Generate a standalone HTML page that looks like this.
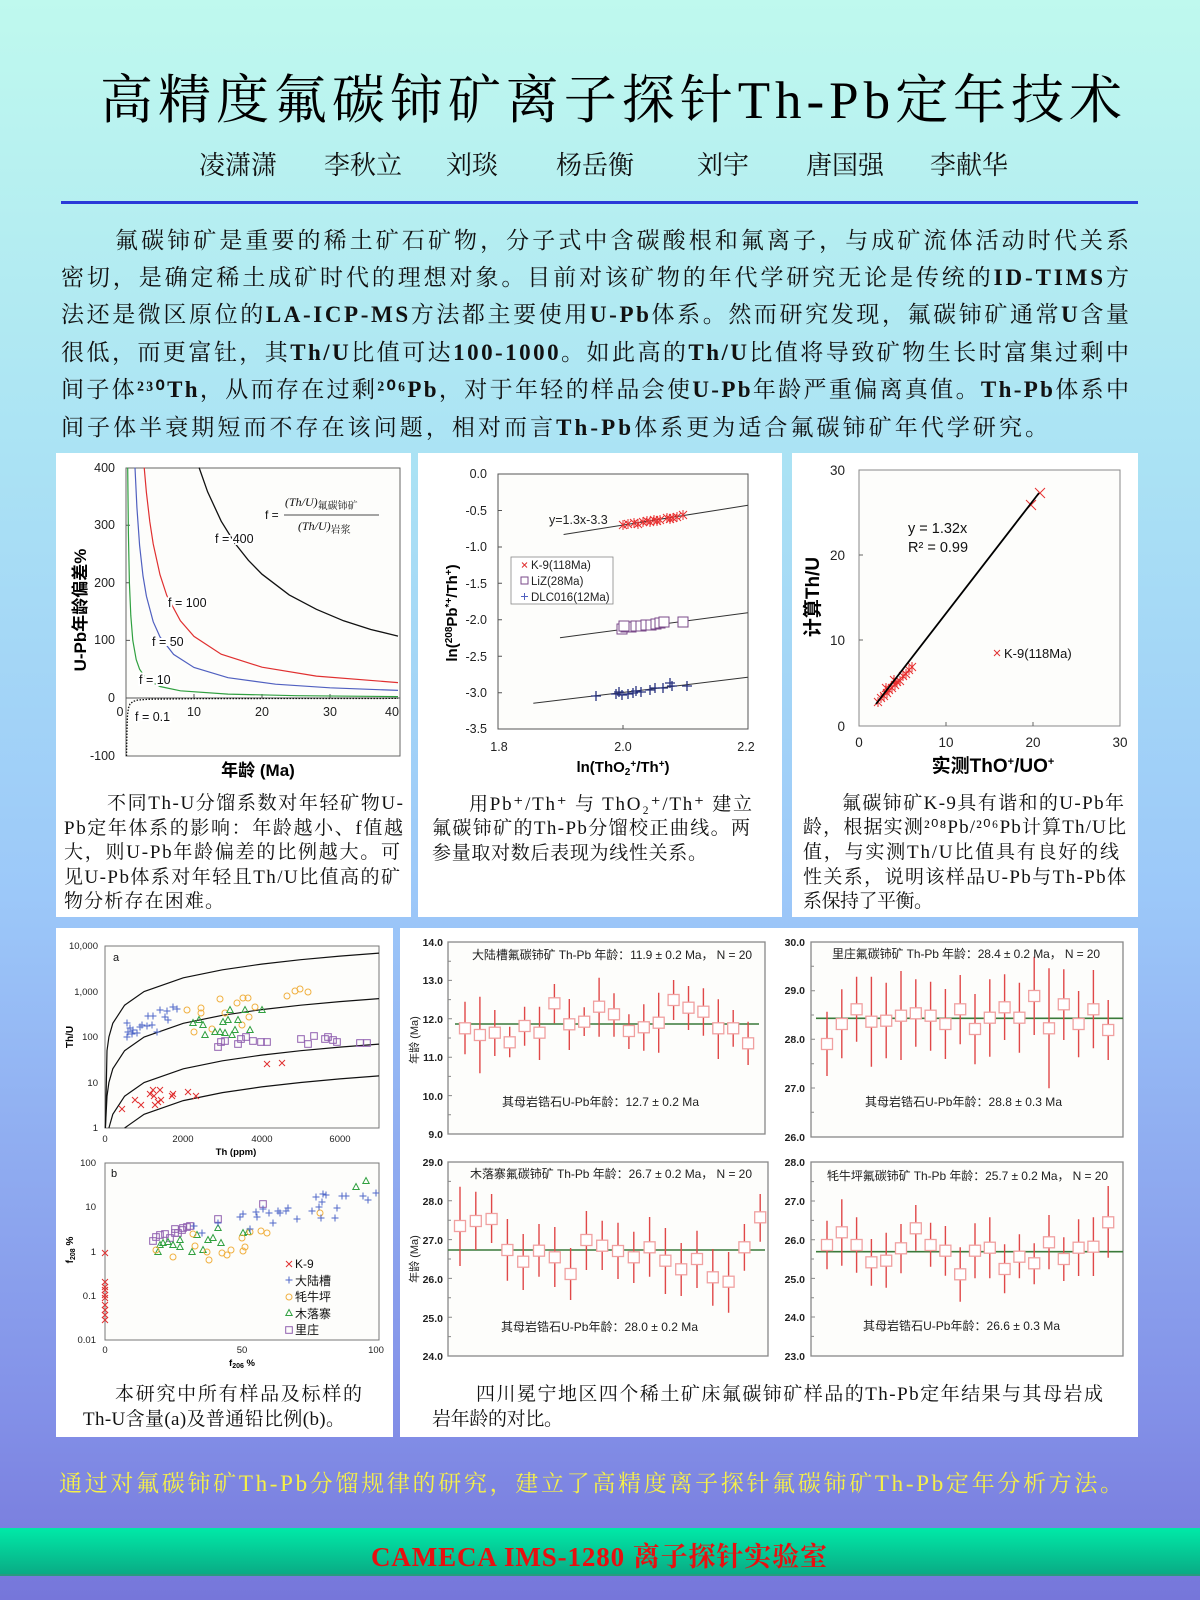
<!DOCTYPE html>
<html><head><meta charset="utf-8"><style>
html,body{margin:0;padding:0;width:1200px;height:1600px;overflow:hidden}
svg{display:block}
.R{font-family:"Liberation Serif","Noto Serif CJK SC",serif}
.S{font-family:"Liberation Sans","Noto Sans CJK SC",sans-serif}
</style></head><body>
<svg width="1200" height="1600" viewBox="0 0 1200 1600" xmlns="http://www.w3.org/2000/svg">
<defs>
<linearGradient id="bg" x1="0" y1="0" x2="0" y2="1">
<stop offset="0" stop-color="#bff9ee"/><stop offset="0.28" stop-color="#abe3f4"/><stop offset="0.56" stop-color="#9cc8f9"/><stop offset="0.88" stop-color="#8391e8"/><stop offset="1" stop-color="#7676da"/>
</linearGradient>
<linearGradient id="gb" x1="0" y1="0" x2="0" y2="1"><stop offset="0" stop-color="#00eaa8"/><stop offset="1" stop-color="#0aaa84"/></linearGradient>
<g id="px"><path d="M-3-3L3 3M-3 3L3-3" stroke="#e03030" stroke-width="1"/></g>
<g id="ast"><path d="M-4-4L4 4M-4 4L4-4M0-5V5" stroke="#e83030" stroke-width="1"/></g>
<g id="pl"><path d="M-3.5 0H3.5M0-3.5V3.5" stroke="#5068c8" stroke-width="1"/></g>
<g id="pln"><path d="M-5 0H5M0-5V5" stroke="#26307e" stroke-width="1.3"/></g>
<circle id="oc" r="3" fill="none" stroke="#f0b040" stroke-width="1"/>
<path id="tr" d="M0-3.5L3.2 2.5H-3.2Z" fill="none" stroke="#30a040" stroke-width="1"/>
<rect id="sq" x="-3.3" y="-3.3" width="6.6" height="6.6" fill="none" stroke="#9060b0" stroke-width="1"/>
<rect id="sqL" x="-5" y="-5" width="10" height="10" fill="#fff" stroke="#7a4a8a" stroke-width="1"/>
<rect id="eb" x="-5.5" y="-5.5" width="11" height="11" fill="#fff" stroke="#f0a0a0" stroke-width="1.3"/>
</defs>
<rect width="1200" height="1600" fill="url(#bg)"/>

<!-- title -->
<text class="R" x="100" y="118" font-size="53" textLength="1022" lengthAdjust="spacing" fill="#000">高精度氟碳铈矿离子探针Th-Pb定年技术</text>
<g class="R" font-size="26" fill="#111">
<text x="199" y="174">凌潇潇</text><text x="324" y="174">李秋立</text><text x="446" y="174">刘琰</text><text x="556" y="174">杨岳衡</text><text x="697" y="174">刘宇</text><text x="806" y="174">唐国强</text><text x="930" y="174">李献华</text>
</g>
<rect x="61" y="201" width="1077" height="3" fill="#2a3ad8"/>

<!-- paragraph -->
<g class="R" font-size="23" fill="#111">
<text x="115" y="248" textLength="1014" lengthAdjust="spacing">氟碳铈矿是重要的稀土矿石矿物，分子式中含碳酸根和氟离子，与成矿流体活动时代关系</text>
<text x="61" y="285" textLength="1068" lengthAdjust="spacing">密切，是确定稀土成矿时代的理想对象。目前对该矿物的年代学研究无论是传统的<tspan font-weight="bold">ID-TIMS</tspan>方</text>
<text x="61" y="322" textLength="1068" lengthAdjust="spacing">法还是微区原位的<tspan font-weight="bold">LA-ICP-MS</tspan>方法都主要使用<tspan font-weight="bold">U-Pb</tspan>体系。然而研究发现，氟碳铈矿通常<tspan font-weight="bold">U</tspan>含量</text>
<text x="61" y="360" textLength="1068" lengthAdjust="spacing">很低，而更富钍，其<tspan font-weight="bold">Th/U</tspan>比值可达<tspan font-weight="bold">100-1000</tspan>。如此高的<tspan font-weight="bold">Th/U</tspan>比值将导致矿物生长时富集过剩中</text>
<text x="61" y="397" textLength="1068" lengthAdjust="spacing">间子体<tspan font-weight="bold">²³⁰Th</tspan>，从而存在过剩<tspan font-weight="bold">²⁰⁶Pb</tspan>，对于年轻的样品会使<tspan font-weight="bold">U-Pb</tspan>年龄严重偏离真值。<tspan font-weight="bold">Th-Pb</tspan>体系中</text>
<text x="61" y="435" textLength="987" lengthAdjust="spacing">间子体半衰期短而不存在该问题，相对而言<tspan font-weight="bold">Th-Pb</tspan>体系更为适合氟碳铈矿年代学研究。</text>
</g>

<!-- panels -->
<g fill="#fff">
<rect x="56" y="453" width="355" height="464"/>
<rect x="418" y="453" width="364" height="464"/>
<rect x="792" y="453" width="346" height="464"/>
<rect x="56" y="928" width="337" height="509"/>
<rect x="400" y="928" width="738" height="509"/>
</g>

<!-- ===== Panel 1 ===== -->
<g>
<rect x="126" y="468" width="274" height="288" fill="#fdfdfb" stroke="#666" stroke-width="1"/>
<line x1="126" y1="698" x2="400" y2="698" stroke="#555" stroke-width="1"/>
<g stroke="#555" stroke-width="1"><path d="M194 698v-4M262 698v-4M330 698v-4M126 640.4h4M126 582.8h4M126 525.2h4"/></g>
<path d="M199.1 467.6L207.6 491.8L221.2 521.2L234.8 543.1L248.4 560.3L262 574.2L289.2 594.9L316.4 609.3L343.6 620.8L370.8 629.5L398 636.1" fill="none" stroke="#111" stroke-width="1.3"/>
<path d="M144.2 467.6L146.4 492.4L149.8 521.7L153.2 543.9L160 574.7L166.8 595.5L180.4 620.8L194 636.4L221.2 654.2L262 667.2L316.4 676.1L398 682.6" fill="none" stroke="#e03030" stroke-width="1.2"/>
<path d="M135 467.6L136.9 507.3L139.6 545.4L143 575.9L146.4 596.1L153.2 621.7L160 636.9L173.6 654.4L194 667.5L228 677.7L275.6 684.2L330 687.8L398 690.4" fill="none" stroke="#5060c0" stroke-width="1.2"/>
<path d="M127.7 467.6L128.4 533.3L129.4 582.8L130.8 615.6L132.8 640.4L136.2 659.6L139.6 669.2L146.4 679L160 686.5L180.4 690.8L228 694.1L296 695.7L398 696.6" fill="none" stroke="#30a040" stroke-width="1.2"/>
<path d="M126.5 756L127 730L127.5 715L128.5 708L130 704L133 701.5L138 700L150 699.2L200 698.6L398 698.4" fill="none" stroke="#111" stroke-width="1.3" stroke-dasharray="1.5 1.5"/>
<g class="S" font-size="12.5" fill="#111" stroke="#fff" stroke-width="4" paint-order="stroke">
<text x="215" y="543">f = 400</text><text x="168" y="607">f = 100</text><text x="152" y="646">f = 50</text><text x="139" y="684">f = 10</text><text x="135" y="721">f = 0.1</text>
</g>
<g class="R" font-size="12" fill="#111" font-style="italic">
<text x="265" y="519" font-style="normal" class="S">f =</text>
<text x="285" y="506">(Th/U)<tspan font-size="10" dy="3" font-style="normal">氟碳铈矿</tspan></text>
<line x1="284" y1="515" x2="379" y2="515" stroke="#111" stroke-width="0.8"/>
<text x="298" y="530">(Th/U)<tspan font-size="10" dy="3" font-style="normal">岩浆</tspan></text>
</g>
<g class="S" font-size="12.5" fill="#222" text-anchor="end">
<text x="115" y="472">400</text><text x="115" y="529">300</text><text x="115" y="587">200</text><text x="115" y="644">100</text><text x="115" y="702">0</text><text x="115" y="760">-100</text>
</g>
<g class="S" font-size="12.5" fill="#222" text-anchor="middle">
<text x="120" y="716">0</text><text x="194" y="716">10</text><text x="262" y="716">20</text><text x="330" y="716">30</text><text x="392" y="716">40</text>
</g>
<text class="S" x="0" y="0" font-size="17" font-weight="bold" text-anchor="middle" transform="translate(86,610) rotate(-90)">U-Pb年龄偏差%</text>
<text class="S" x="258" y="776" font-size="17" font-weight="bold" text-anchor="middle">年龄 (Ma)</text>
<g class="R" font-size="19" fill="#111">
<text x="107" y="809" textLength="296" lengthAdjust="spacing">不同Th-U分馏系数对年轻矿物U-</text>
<text x="64" y="834" textLength="339" lengthAdjust="spacing">Pb定年体系的影响：年龄越小、f值越</text>
<text x="64" y="858" textLength="336" lengthAdjust="spacing">大，则U-Pb年龄偏差的比例越大。可</text>
<text x="64" y="883" textLength="336" lengthAdjust="spacing">见U-Pb体系对年轻且Th/U比值高的矿</text>
<text x="64" y="907" textLength="160" lengthAdjust="spacing">物分析存在困难。</text>
</g>
</g>

<!-- ===== Panel 2 ===== -->
<g>
<rect x="498" y="474" width="250" height="255" fill="#fdfdfb" stroke="#555" stroke-width="1"/>
<path d="M498 510.5h4M498 547h4M498 583.3h4M498 619.8h4M498 656.3h4M498 692.7h4M623 729v-4" stroke="#555"/>
<path d="M563.6 534.5L748 505.3M560 637.7L747.7 612.7M533.3 703.3L747.7 677.3" stroke="#333" stroke-width="1"/>
<g>
<use href="#ast" x="623" y="525"/><use href="#ast" x="628" y="524"/><use href="#ast" x="634" y="523"/><use href="#ast" x="638" y="524"/><use href="#ast" x="643" y="522"/><use href="#ast" x="647" y="521"/><use href="#ast" x="650" y="522"/><use href="#ast" x="654" y="520"/><use href="#ast" x="657" y="521"/><use href="#ast" x="660" y="520"/><use href="#ast" x="667" y="518"/><use href="#ast" x="670" y="519"/><use href="#ast" x="673" y="518"/><use href="#ast" x="677" y="517"/><use href="#ast" x="683" y="515"/>
</g>
<g>
<use href="#sqL" x="622" y="629"/><use href="#sqL" x="626" y="627"/><use href="#sqL" x="631" y="627"/><use href="#sqL" x="636" y="626"/><use href="#sqL" x="641" y="626"/><use href="#sqL" x="646" y="625"/><use href="#sqL" x="651" y="625"/><use href="#sqL" x="656" y="624"/><use href="#sqL" x="660" y="623"/><use href="#sqL" x="664" y="622"/><use href="#sqL" x="683" y="622"/><use href="#sqL" x="624" y="626"/>
</g>
<g>
<use href="#pln" x="596" y="696"/><use href="#pln" x="616" y="694"/><use href="#pln" x="619" y="692"/><use href="#pln" x="622" y="695"/><use href="#pln" x="628" y="694"/><use href="#pln" x="633" y="693"/><use href="#pln" x="636" y="691"/><use href="#pln" x="641" y="692"/><use href="#pln" x="650" y="690"/><use href="#pln" x="655" y="688"/><use href="#pln" x="663" y="688"/><use href="#pln" x="670" y="683"/><use href="#pln" x="672" y="686"/><use href="#pln" x="687" y="686"/>
</g>
<text class="S" x="549" y="524" font-size="12.5" fill="#222">y=1.3x-3.3</text>
<rect x="511" y="557" width="102" height="47" fill="#fff" stroke="#888" stroke-width="0.8"/>
<g class="S" font-size="11.5" fill="#222">
<path d="M522 562.5l5 5M522 567.5l5-5" stroke="#e03030"/><text x="531" y="569">K-9(118Ma)</text>
<rect x="521" y="577" width="7" height="7" fill="none" stroke="#7a4a8a"/><text x="531" y="585">LiZ(28Ma)</text>
<path d="M521 596.5h7M524.5 593v7" stroke="#5060c0"/><text x="531" y="601">DLC016(12Ma)</text>
</g>
<g class="S" font-size="12.5" fill="#222" text-anchor="end">
<text x="487" y="478">0.0</text><text x="487" y="515">-0.5</text><text x="487" y="551">-1.0</text><text x="487" y="588">-1.5</text><text x="487" y="624">-2.0</text><text x="487" y="661">-2.5</text><text x="487" y="697">-3.0</text><text x="487" y="733">-3.5</text>
</g>
<g class="S" font-size="12.5" fill="#222" text-anchor="middle"><text x="499" y="751">1.8</text><text x="623" y="751">2.0</text><text x="746" y="751">2.2</text></g>
<text class="S" font-size="15" font-weight="bold" text-anchor="middle" transform="translate(457,613) rotate(-90)">ln(<tspan font-size="10" dy="-5">208</tspan><tspan dy="5">Pb</tspan><tspan font-size="10" dy="-5">*+</tspan><tspan dy="5">/Th</tspan><tspan font-size="10" dy="-5">+</tspan><tspan dy="5">)</tspan></text>
<text class="S" x="623" y="772" font-size="15" font-weight="bold" text-anchor="middle">ln(ThO<tspan font-size="10" dy="3">2</tspan><tspan font-size="10" dy="-8">+</tspan><tspan dy="5">/Th</tspan><tspan font-size="10" dy="-5">+</tspan><tspan dy="5">)</tspan></text>
<g class="R" font-size="19" fill="#111">
<text x="469" y="810" textLength="283" lengthAdjust="spacing">用Pb⁺/Th⁺ 与 ThO₂⁺/Th⁺ 建立</text>
<text x="432" y="834" textLength="318" lengthAdjust="spacing">氟碳铈矿的Th-Pb分馏校正曲线。两</text>
<text x="432" y="859" textLength="275" lengthAdjust="spacing">参量取对数后表现为线性关系。</text>
</g>
</g>

<!-- ===== Panel 3 ===== -->
<g>
<rect x="859" y="470" width="261" height="256" fill="#fdfdfb" stroke="#888" stroke-width="1"/>
<path d="M859 640h4M859 555h4M946 726v-4M1033 726v-4" stroke="#666"/>
<g>
<use href="#ast" x="878" y="702"/><use href="#ast" x="881" y="698"/><use href="#ast" x="884" y="696"/><use href="#ast" x="887" y="693"/><use href="#ast" x="889" y="690"/><use href="#ast" x="892" y="688"/><use href="#ast" x="895" y="685"/><use href="#ast" x="897" y="682"/><use href="#ast" x="900" y="681"/><use href="#ast" x="903" y="676"/><use href="#ast" x="906" y="674"/><use href="#ast" x="909" y="670"/><use href="#ast" x="912" y="667"/><use href="#ast" x="886" y="688"/><use href="#ast" x="894" y="680"/>
</g>
<path d="M1026 500l10 10M1026 510l10-10M1035 488l10 10M1035 498l10-10" stroke="#e83030" stroke-width="1"/>
<path d="M876 704L1039 493" stroke="#000" stroke-width="1.8"/>
<g class="S" font-size="14.5" fill="#111"><text x="908" y="533">y = 1.32x</text><text x="908" y="552">R² = 0.99</text></g>
<path d="M994 650l6 6M994 656l6-6" stroke="#e03030"/>
<text class="S" x="1004" y="658" font-size="13" fill="#111">K-9(118Ma)</text>
<g class="S" font-size="13.5" fill="#222" text-anchor="end"><text x="845" y="475">30</text><text x="845" y="560">20</text><text x="845" y="645">10</text><text x="845" y="731">0</text></g>
<g class="S" font-size="13.5" fill="#222" text-anchor="middle"><text x="859" y="747">0</text><text x="946" y="747">10</text><text x="1033" y="747">20</text><text x="1120" y="747">30</text></g>
<text class="S" font-size="19" font-weight="bold" text-anchor="middle" transform="translate(819,597) rotate(-90)">计算Th/U</text>
<text class="S" x="993" y="772" font-size="19" font-weight="bold" text-anchor="middle">实测ThO<tspan font-size="11" dy="-7">+</tspan><tspan dy="7">/UO</tspan><tspan font-size="11" dy="-7">+</tspan></text>
<g class="R" font-size="19" fill="#111">
<text x="842" y="809" textLength="282" lengthAdjust="spacing">氟碳铈矿K-9具有谐和的U-Pb年</text>
<text x="803" y="833" textLength="323" lengthAdjust="spacing">龄，根据实测²⁰⁸Pb/²⁰⁶Pb计算Th/U比</text>
<text x="803" y="858" textLength="316" lengthAdjust="spacing">值，与实测Th/U比值具有良好的线</text>
<text x="803" y="883" textLength="323" lengthAdjust="spacing">性关系，说明该样品U-Pb与Th-Pb体</text>
<text x="803" y="907" textLength="130" lengthAdjust="spacing">系保持了平衡。</text>
</g>
</g>

<!-- ===== Panel 4 ===== -->
<g>
<rect x="105" y="946" width="274" height="182" fill="#fdfdfb" stroke="#777" stroke-width="1"/>
<path d="M105.4 1128L107 1050.7L108.9 1037L112.8 1023.3L124.6 1005.2L144.1 991.5L183.3 977.8L222.4 969.8L261.6 964.1L300.7 959.7L339.8 956.1L379 953.1" fill="none" stroke="#111" stroke-width="1.2"/>
<path d="M105.4 1128L107 1096.2L108.9 1082.5L112.8 1068.8L124.6 1050.7L144.1 1037L183.3 1023.3L222.4 1015.3L261.6 1009.6L300.7 1005.2L339.8 1001.6L379 998.6" fill="none" stroke="#111" stroke-width="1.2"/>
<path d="M108.9 1128L112.8 1114.3L124.6 1096.2L144.1 1082.5L183.3 1068.8L222.4 1060.8L261.6 1055.1L300.7 1050.7L339.8 1047.1L379 1044.1" fill="none" stroke="#111" stroke-width="1.2"/>
<path d="M124.6 1128L144.1 1114.3L183.3 1100.6L222.4 1092.6L261.6 1086.9L300.7 1082.5L339.8 1078.9L379 1075.9" fill="none" stroke="#111" stroke-width="1.2"/>
<g>
<use href="#pl" x="127" y="1037"/><use href="#pl" x="128" y="1032"/><use href="#pl" x="133" y="1030"/><use href="#pl" x="130" y="1028"/><use href="#pl" x="127" y="1023"/><use href="#pl" x="140" y="1027"/><use href="#pl" x="147" y="1026"/><use href="#pl" x="152" y="1025"/><use href="#pl" x="157" y="1032"/><use href="#pl" x="153" y="1016"/><use href="#pl" x="160" y="1010"/><use href="#pl" x="167" y="1011"/><use href="#pl" x="165" y="1017"/><use href="#pl" x="173" y="1007"/><use href="#pl" x="177" y="1009"/><use href="#pl" x="168" y="1020"/><use href="#pl" x="137" y="1033"/><use href="#pl" x="132" y="1034"/><use href="#pl" x="142" y="1025"/><use href="#pl" x="148" y="1016"/>
<use href="#oc" x="187" y="1010"/><use href="#oc" x="194" y="1032"/><use href="#oc" x="201" y="1008"/><use href="#oc" x="201" y="1013"/><use href="#oc" x="212" y="1029"/><use href="#oc" x="220" y="999"/><use href="#oc" x="225" y="1013"/><use href="#oc" x="237" y="1003"/><use href="#oc" x="243" y="998"/><use href="#oc" x="248" y="998"/><use href="#oc" x="242" y="1025"/><use href="#oc" x="249" y="1017"/><use href="#oc" x="255" y="1007"/><use href="#oc" x="287" y="996"/><use href="#oc" x="295" y="991"/><use href="#oc" x="300" y="989"/><use href="#oc" x="308" y="992"/>
<use href="#tr" x="193" y="1023"/><use href="#tr" x="199" y="1020"/><use href="#tr" x="203" y="1025"/><use href="#tr" x="205" y="1035"/><use href="#tr" x="215" y="1032"/><use href="#tr" x="223" y="1022"/><use href="#tr" x="228" y="1020"/><use href="#tr" x="230" y="1010"/><use href="#tr" x="235" y="1030"/><use href="#tr" x="225" y="1033"/><use href="#tr" x="238" y="1020"/><use href="#tr" x="245" y="1010"/><use href="#tr" x="250" y="1030"/><use href="#tr" x="262" y="1010"/><use href="#tr" x="232" y="1035"/><use href="#tr" x="220" y="1032"/>
<use href="#sq" x="218" y="1047"/><use href="#sq" x="221" y="1042"/><use href="#sq" x="225" y="1041"/><use href="#sq" x="238" y="1044"/><use href="#sq" x="241" y="1039"/><use href="#sq" x="246" y="1037"/><use href="#sq" x="253" y="1041"/><use href="#sq" x="261" y="1042"/><use href="#sq" x="267" y="1042"/><use href="#sq" x="301" y="1039"/><use href="#sq" x="308" y="1044"/><use href="#sq" x="314" y="1036"/><use href="#sq" x="325" y="1039"/><use href="#sq" x="328" y="1037"/><use href="#sq" x="333" y="1040"/><use href="#sq" x="337" y="1042"/><use href="#sq" x="360" y="1043"/><use href="#sq" x="367" y="1043"/>
<use href="#px" x="122" y="1109"/><use href="#px" x="135" y="1100"/><use href="#px" x="141" y="1105"/><use href="#px" x="150" y="1094"/><use href="#px" x="153" y="1090"/><use href="#px" x="154" y="1096"/><use href="#px" x="160" y="1090"/><use href="#px" x="155" y="1105"/><use href="#px" x="158" y="1102"/><use href="#px" x="161" y="1100"/><use href="#px" x="172" y="1096"/><use href="#px" x="173" y="1094"/><use href="#px" x="188" y="1092"/><use href="#px" x="196" y="1096"/><use href="#px" x="267" y="1064"/><use href="#px" x="282" y="1063"/>
</g>
<text class="S" x="113" y="961" font-size="11" fill="#111">a</text>
<g class="S" font-size="9.5" fill="#222" text-anchor="end"><text x="98" y="949">10,000</text><text x="98" y="995">1,000</text><text x="98" y="1040">100</text><text x="98" y="1086">10</text><text x="98" y="1131">1</text></g>
<g class="S" font-size="9.5" fill="#222" text-anchor="middle"><text x="105" y="1142">0</text><text x="183" y="1142">2000</text><text x="262" y="1142">4000</text><text x="340" y="1142">6000</text></g>
<text class="S" x="236" y="1155" font-size="9.5" font-weight="bold" text-anchor="middle">Th (ppm)</text>
<text class="S" font-size="10" font-weight="bold" text-anchor="middle" transform="translate(73,1037) rotate(-90)">Th/U</text>

<rect x="105" y="1163" width="274" height="177" fill="#fdfdfb" stroke="#777" stroke-width="1"/>
<g>
<use href="#sq" x="153" y="1241"/><use href="#sq" x="156" y="1237"/><use href="#sq" x="160" y="1235"/><use href="#sq" x="165" y="1234"/><use href="#sq" x="170" y="1238"/><use href="#sq" x="175" y="1233"/><use href="#sq" x="175" y="1229"/><use href="#sq" x="178" y="1233"/><use href="#sq" x="182" y="1230"/><use href="#sq" x="183" y="1228"/><use href="#sq" x="187" y="1227"/><use href="#sq" x="190" y="1226"/><use href="#sq" x="218" y="1219"/><use href="#sq" x="263" y="1204"/>
<use href="#tr" x="158" y="1252"/><use href="#tr" x="160" y="1245"/><use href="#tr" x="163" y="1243"/><use href="#tr" x="168" y="1242"/><use href="#tr" x="173" y="1245"/><use href="#tr" x="180" y="1247"/><use href="#tr" x="180" y="1240"/><use href="#tr" x="192" y="1252"/><use href="#tr" x="197" y="1235"/><use href="#tr" x="203" y="1250"/><use href="#tr" x="208" y="1240"/><use href="#tr" x="213" y="1238"/><use href="#tr" x="218" y="1228"/><use href="#tr" x="221" y="1243"/><use href="#tr" x="243" y="1233"/><use href="#tr" x="248" y="1232"/><use href="#tr" x="356" y="1187"/><use href="#tr" x="366" y="1181"/>
<use href="#oc" x="156" y="1250"/><use href="#oc" x="173" y="1257"/><use href="#oc" x="193" y="1234"/><use href="#oc" x="195" y="1246"/><use href="#oc" x="207" y="1252"/><use href="#oc" x="209" y="1260"/><use href="#oc" x="222" y="1253"/><use href="#oc" x="227" y="1255"/><use href="#oc" x="231" y="1250"/><use href="#oc" x="242" y="1238"/><use href="#oc" x="243" y="1251"/><use href="#oc" x="245" y="1247"/><use href="#oc" x="250" y="1232"/><use href="#oc" x="261" y="1231"/><use href="#oc" x="267" y="1233"/><use href="#oc" x="320" y="1213"/>
<use href="#pl" x="194" y="1226"/><use href="#pl" x="202" y="1233"/><use href="#pl" x="218" y="1223"/><use href="#pl" x="240" y="1217"/><use href="#pl" x="243" y="1214"/><use href="#pl" x="250" y="1229"/><use href="#pl" x="256" y="1212"/><use href="#pl" x="257" y="1217"/><use href="#pl" x="263" y="1209"/><use href="#pl" x="269" y="1213"/><use href="#pl" x="273" y="1223"/><use href="#pl" x="278" y="1211"/><use href="#pl" x="280" y="1213"/><use href="#pl" x="286" y="1211"/><use href="#pl" x="288" y="1208"/><use href="#pl" x="297" y="1219"/><use href="#pl" x="312" y="1211"/><use href="#pl" x="316" y="1197"/><use href="#pl" x="319" y="1207"/><use href="#pl" x="321" y="1218"/><use href="#pl" x="322" y="1202"/><use href="#pl" x="323" y="1194"/><use href="#pl" x="326" y="1195"/><use href="#pl" x="335" y="1218"/><use href="#pl" x="337" y="1208"/><use href="#pl" x="342" y="1196"/><use href="#pl" x="346" y="1196"/><use href="#pl" x="363" y="1196"/><use href="#pl" x="368" y="1200"/><use href="#pl" x="376" y="1193"/>
<use href="#px" x="105" y="1253"/><use href="#px" x="105" y="1282"/><use href="#px" x="105" y="1287"/><use href="#px" x="105" y="1290"/><use href="#px" x="105" y="1295"/><use href="#px" x="105" y="1298"/><use href="#px" x="105" y="1305"/><use href="#px" x="105" y="1310"/><use href="#px" x="105" y="1315"/><use href="#px" x="105" y="1320"/>
</g>
<text class="S" x="111" y="1177" font-size="11" fill="#111">b</text>
<g class="S" font-size="12" fill="#111">
<use href="#px" x="289" y="1264"/><text x="295" y="1268">K-9</text>
<use href="#pl" x="289" y="1280"/><text x="295" y="1285">大陆槽</text>
<use href="#oc" x="289" y="1297"/><text x="295" y="1301">牦牛坪</text>
<use href="#tr" x="289" y="1313"/><text x="295" y="1318">木落寨</text>
<use href="#sq" x="289" y="1330"/><text x="295" y="1334">里庄</text>
</g>
<g class="S" font-size="9.5" fill="#222" text-anchor="end"><text x="96" y="1166">100</text><text x="96" y="1210">10</text><text x="96" y="1255">1</text><text x="96" y="1299">0.1</text><text x="96" y="1343">0.01</text></g>
<g class="S" font-size="9.5" fill="#222" text-anchor="middle"><text x="105" y="1353">0</text><text x="242" y="1353">50</text><text x="376" y="1353">100</text></g>
<text class="S" x="242" y="1366" font-size="9.5" font-weight="bold" text-anchor="middle">f<tspan font-size="7" dy="2">206</tspan><tspan dy="-2"> %</tspan></text>
<text class="S" font-size="10" font-weight="bold" text-anchor="middle" transform="translate(73,1250) rotate(-90)">f<tspan font-size="7" dy="2">208</tspan><tspan dy="-2"> %</tspan></text>
<g class="R" font-size="19" fill="#111">
<text x="115" y="1400" textLength="247" lengthAdjust="spacing">本研究中所有样品及标样的</text>
<text x="83" y="1425" textLength="262" lengthAdjust="spacing">Th-U含量(a)及普通铅比例(b)。</text>
</g>
</g>

<!-- ===== Panel 5 ===== -->
<g>
<g fill="#fdfdfb" stroke="#888" stroke-width="1.3">
<rect x="448" y="942" width="317" height="192"/>
<rect x="811" y="942" width="312" height="195"/>
<rect x="448" y="1162" width="320" height="194"/>
<rect x="811" y="1162" width="312" height="194"/>
</g>
<g class="S" font-size="10.5" font-weight="bold" fill="#222" text-anchor="end">
<text x="443" y="946">14.0</text><text x="443" y="984">13.0</text><text x="443" y="1023">12.0</text><text x="443" y="1061">11.0</text><text x="443" y="1100">10.0</text><text x="443" y="1138">9.0</text>
<text x="805" y="946">30.0</text><text x="805" y="994">29.0</text><text x="805" y="1043">28.0</text><text x="805" y="1092">27.0</text><text x="805" y="1141">26.0</text>
<text x="443" y="1166">29.0</text><text x="443" y="1205">28.0</text><text x="443" y="1244">27.0</text><text x="443" y="1283">26.0</text><text x="443" y="1322">25.0</text><text x="443" y="1360">24.0</text>
<text x="805" y="1166">28.0</text><text x="805" y="1205">27.0</text><text x="805" y="1244">26.0</text><text x="805" y="1283">25.0</text><text x="805" y="1321">24.0</text><text x="805" y="1360">23.0</text>
</g>
<g stroke="#888" stroke-width="1">
<path d="M448 961.2h3M448 980.4h4M448 999.6h3M448 1018.8h4M448 1038h3M448 1057.2h4M448 1076.4h3M448 1095.6h4M448 1114.8h3"/>
<path d="M811 966.3h3M811 990.7h4M811 1015h3M811 1039.3h4M811 1063.7h3M811 1088h4M811 1112.3h3"/>
<path d="M448 1181.4h3M448 1200.8h4M448 1220.2h3M448 1239.6h4M448 1259h3M448 1278.4h4M448 1297.8h3M448 1317.2h4M448 1336.6h3"/>
<path d="M811 1181.6h3M811 1201h4M811 1220.4h3M811 1239.7h4M811 1259h3M811 1278.4h4M811 1297.7h3M811 1317h4M811 1336.4h3"/>
</g>
<g stroke="#3a7a3a" stroke-width="1.6">
<path d="M455 1024H759M816 1018.3H1123M448 1250H765M816 1251.7H1123"/>
</g>
<g stroke="#e04848" stroke-width="1.4" fill="none">
<path d="M465 1001.7V1054.3M479.9 996.7V1073.3M494.8 1010V1056M509.7 1026.7V1057.3M524.6 1006.7V1045.7M539.5 1006.7V1060M554.4 984V1023.3M569.3 999V1050M584.2 1007.3V1036M599.1 977.7V1036.7M614 993.3V1036.7M628.9 1014.3V1049M643.8 1004.3V1050.7M658.7 992.7V1052.7M673.6 980V1020M688.5 986V1030M703.4 988.3V1035.7M718.3 999.3V1059M733.2 1010V1046.7M748.1 1021.7V1065"/>
<path d="M827 1011.7V1076M841.8 989.3V1058.3M856.6 976.7V1041.7M871.4 976.7V1066.7M886.2 982.7V1058.3M901 971V1060M915.8 979.3V1046.7M930.6 981.7V1050.7M945.4 989V1059M960.2 975V1044.3M975 994V1064.3M989.8 979.3V1056.7M1004.6 974.3V1040M1019.4 982.7V1052.7M1034.2 956.7V1035M1049 968.3V1088.3M1063.8 969.3V1040M1078.6 991V1057.3M1093.4 970V1048.3M1108.2 1000V1060"/>
<path d="M460 1186.7V1266M475.8 1191.7V1250M491.6 1194V1243M507.4 1219V1280.7M523.2 1234V1290M539 1224V1276.7M554.8 1227V1287M570.6 1248V1300M586.4 1211V1270M602.2 1220.7V1270M618 1222.7V1279M633.8 1231.7V1283M649.6 1217V1276.7M665.4 1228V1294M681.2 1243V1296M697 1230.7V1288M712.8 1249V1305.7M728.6 1252V1312.7M744.4 1224V1270.7M760.2 1194V1241.7"/>
<path d="M827 1220.7V1269.3M841.8 1199.3V1265.7M856.6 1217.3V1272.7M871.4 1239V1285.7M886.2 1232.7V1287.7M901 1224V1273.3M915.8 1205V1250.7M930.6 1222.7V1266.7M945.4 1226V1275.7M960.2 1247.3V1301.7M975 1223.3V1278.3M989.8 1217.3V1278.3M1004.6 1244.3V1293.3M1019.4 1234.3V1278.3M1034.2 1243.3V1284.3M1049 1215V1269.3M1063.8 1237.3V1281M1078.6 1219.3V1276M1093.4 1217.3V1276M1108.2 1186V1257.7"/>
</g>
<g>
<use href="#eb" x="465" y="1028.3"/><use href="#eb" x="479.9" y="1035"/><use href="#eb" x="494.8" y="1032.7"/><use href="#eb" x="509.7" y="1042.3"/><use href="#eb" x="524.6" y="1026"/><use href="#eb" x="539.5" y="1032.7"/><use href="#eb" x="554.4" y="1003.3"/><use href="#eb" x="569.3" y="1024.3"/><use href="#eb" x="584.2" y="1021.7"/><use href="#eb" x="599.1" y="1006.7"/><use href="#eb" x="614" y="1014.3"/><use href="#eb" x="628.9" y="1031"/><use href="#eb" x="643.8" y="1027.3"/><use href="#eb" x="658.7" y="1022.7"/><use href="#eb" x="673.6" y="1000"/><use href="#eb" x="688.5" y="1007.7"/><use href="#eb" x="703.4" y="1011.7"/><use href="#eb" x="718.3" y="1028.3"/><use href="#eb" x="733.2" y="1028.3"/><use href="#eb" x="748.1" y="1043.3"/>
<use href="#eb" x="827" y="1044"/><use href="#eb" x="841.8" y="1024"/><use href="#eb" x="856.6" y="1009.3"/><use href="#eb" x="871.4" y="1021.7"/><use href="#eb" x="886.2" y="1020.7"/><use href="#eb" x="901" y="1015.7"/><use href="#eb" x="915.8" y="1013.3"/><use href="#eb" x="930.6" y="1015.7"/><use href="#eb" x="945.4" y="1024"/><use href="#eb" x="960.2" y="1009.3"/><use href="#eb" x="975" y="1029"/><use href="#eb" x="989.8" y="1017.7"/><use href="#eb" x="1004.6" y="1007.3"/><use href="#eb" x="1019.4" y="1017.7"/><use href="#eb" x="1034.2" y="996"/><use href="#eb" x="1049" y="1028.3"/><use href="#eb" x="1063.8" y="1004.3"/><use href="#eb" x="1078.6" y="1024"/><use href="#eb" x="1093.4" y="1009.3"/><use href="#eb" x="1108.2" y="1030"/>
<use href="#eb" x="460" y="1226"/><use href="#eb" x="475.8" y="1221"/><use href="#eb" x="491.6" y="1219"/><use href="#eb" x="507.4" y="1250"/><use href="#eb" x="523.2" y="1261.7"/><use href="#eb" x="539" y="1250.7"/><use href="#eb" x="554.8" y="1257.3"/><use href="#eb" x="570.6" y="1274"/><use href="#eb" x="586.4" y="1240"/><use href="#eb" x="602.2" y="1245.7"/><use href="#eb" x="618" y="1251"/><use href="#eb" x="633.8" y="1257.3"/><use href="#eb" x="649.6" y="1247.3"/><use href="#eb" x="665.4" y="1260.7"/><use href="#eb" x="681.2" y="1269.3"/><use href="#eb" x="697" y="1259"/><use href="#eb" x="712.8" y="1277.3"/><use href="#eb" x="728.6" y="1281.7"/><use href="#eb" x="744.4" y="1247.3"/><use href="#eb" x="760.2" y="1217.3"/>
<use href="#eb" x="827" y="1245"/><use href="#eb" x="841.8" y="1232.3"/><use href="#eb" x="856.6" y="1245"/><use href="#eb" x="871.4" y="1262.3"/><use href="#eb" x="886.2" y="1260.7"/><use href="#eb" x="901" y="1248.3"/><use href="#eb" x="915.8" y="1228.3"/><use href="#eb" x="930.6" y="1245"/><use href="#eb" x="945.4" y="1250.7"/><use href="#eb" x="960.2" y="1274.3"/><use href="#eb" x="975" y="1250.7"/><use href="#eb" x="989.8" y="1247.7"/><use href="#eb" x="1004.6" y="1269"/><use href="#eb" x="1019.4" y="1256.7"/><use href="#eb" x="1034.2" y="1263.3"/><use href="#eb" x="1049" y="1242.3"/><use href="#eb" x="1063.8" y="1259"/><use href="#eb" x="1078.6" y="1247.7"/><use href="#eb" x="1093.4" y="1246.7"/><use href="#eb" x="1108.2" y="1222.3"/>
</g>
<g class="S" font-size="12" fill="#222">
<text x="472" y="959" textLength="280" lengthAdjust="spacing">大陆槽氟碳铈矿 Th-Pb 年龄：11.9 ± 0.2 Ma， N = 20</text>
<text x="502" y="1106" textLength="197" lengthAdjust="spacing">其母岩锆石U-Pb年龄：12.7 ± 0.2 Ma</text>
<text x="832" y="958" textLength="268" lengthAdjust="spacing">里庄氟碳铈矿 Th-Pb 年龄：28.4 ± 0.2 Ma， N = 20</text>
<text x="865" y="1106" textLength="197" lengthAdjust="spacing">其母岩锆石U-Pb年龄：28.8 ± 0.3 Ma</text>
<text x="470" y="1178" textLength="282" lengthAdjust="spacing">木落寨氟碳铈矿 Th-Pb 年龄：26.7 ± 0.2 Ma， N = 20</text>
<text x="501" y="1331" textLength="197" lengthAdjust="spacing">其母岩锆石U-Pb年龄：28.0 ± 0.2 Ma</text>
<text x="827" y="1180" textLength="281" lengthAdjust="spacing">牦牛坪氟碳铈矿 Th-Pb 年龄：25.7 ± 0.2 Ma， N = 20</text>
<text x="863" y="1330" textLength="197" lengthAdjust="spacing">其母岩锆石U-Pb年龄：26.6 ± 0.3 Ma</text>
</g>
<text class="S" font-size="11" text-anchor="middle" fill="#222" transform="translate(418,1040) rotate(-90)">年龄 (Ma)</text>
<text class="S" font-size="11" text-anchor="middle" fill="#222" transform="translate(418,1259) rotate(-90)">年龄 (Ma)</text>
<g class="R" font-size="19" fill="#111">
<text x="476" y="1400" textLength="627" lengthAdjust="spacing">四川冕宁地区四个稀土矿床氟碳铈矿样品的Th-Pb定年结果与其母岩成</text>
<text x="432" y="1425" textLength="131" lengthAdjust="spacing">岩年龄的对比。</text>
</g>
</g>

<!-- conclusion -->
<text class="R" x="59" y="1491" font-size="23" fill="#f6f048" textLength="1064" lengthAdjust="spacing">通过对氟碳铈矿Th-Pb分馏规律的研究，建立了高精度离子探针氟碳铈矿Th-Pb定年分析方法。</text>
<rect x="0" y="1528" width="1200" height="47" fill="url(#gb)"/>
<rect x="0" y="1574" width="1200" height="2" fill="#2a9a80"/>
<text class="R" x="371" y="1566" font-size="27" font-weight="bold" fill="#e81010" textLength="456" lengthAdjust="spacing">CAMECA IMS-1280 离子探针实验室</text>
</svg>
</body></html>
